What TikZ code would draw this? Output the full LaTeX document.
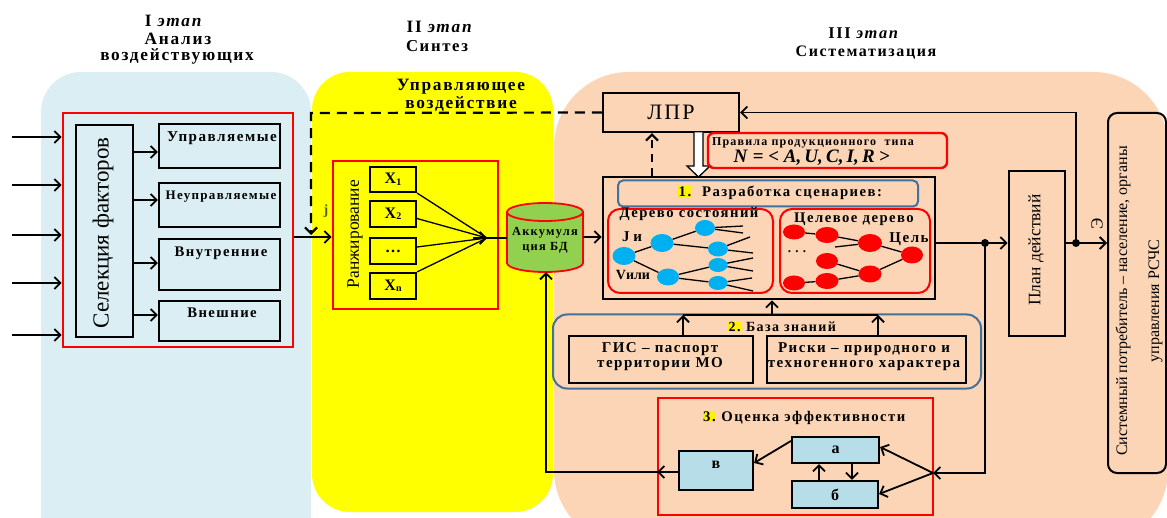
\documentclass[tikz,border=0pt]{standalone}
\usepackage{fontspec}
\setmainfont{Liberation Serif}
\newfontfamily\spf[LetterSpace=10]{Liberation Serif}
\usetikzlibrary{arrows.meta,shapes.geometric,calc}
\definecolor{pblue}{HTML}{DAEEF3}
\definecolor{pyel}{HTML}{FFFF00}
\definecolor{ppeach}{HTML}{FBD5B5}
\definecolor{cgreen}{HTML}{92D050}
\definecolor{nblue}{HTML}{00B0F0}
\definecolor{bborder}{HTML}{41719C}
\definecolor{abox}{HTML}{B7DEE8}
\definecolor{jgreen}{HTML}{4F6228}
\newcommand\hlyel[1]{{\setlength{\fboxsep}{0.6pt}\colorbox{yellow}{#1}}}
\newcommand\xsub[1]{{\bfseries\fontsize{16}{16}\selectfont X\raisebox{-1.5pt}{\fontsize{10}{10}\selectfont #1}}}
\newcommand\prodrule{{\bfseries\itshape N\/ {\upshape =} \textless\ A,\,U,\,C,\,I,\,R {\upshape\textgreater}}}
\tikzset{
  box/.style={draw=black, line width=2.2pt, inner sep=0pt},
  redbox/.style={draw=red, line width=2.8pt, inner sep=0pt},
  conn/.style={line width=1.8pt, -{Straight Barb[length=6pt,width=12pt]}},
  plain/.style={line width=1.8pt},
  thinl/.style={line width=1.3pt},
  bt/.style={font=\spf\bfseries\fontsize{#1}{#1}\selectfont, align=center, inner sep=0pt},
  bt/.default=12,
  bn/.style={ellipse, fill=nblue, inner sep=0pt},
  rn/.style={ellipse, fill=red, inner sep=0pt},
}
\begin{document}
\begin{tikzpicture}[x=1pt,y=-1pt]
\useasboundingbox (0,0) rectangle (1167,518);
% panels
\begin{scope}
\clip (0,0) rectangle (1167,518);
\fill[pblue, rounded corners=40pt] (41,72) rectangle (311,580);
\fill[pyel, rounded corners=38pt] (312,72) rectangle (553,512);
\fill[ppeach, rounded corners=75pt] (554,72) rectangle (1168,545);
\end{scope}
% titles
\node[bt=17.3] (t1a) at (174,21) {I \textit{этап}};
\node[bt=17.3] (t1b) at (178,39) {Анализ};
\node[bt=17.3] (t1c) at (177,56) {воздействующих};
\node[bt=17.3] (t2a) at (440,27) {II \textit{этап}};
\node[bt=16.7] (t2b) at (437,46) {Синтез};
\node[bt=16.4] (t3a) at (864,33) {III \textit{этап}};
\node[bt=16] (t3b) at (866,53) {Систематизация};
% stage I
\node[redbox, minimum width=230pt, minimum height=234pt] (lred) at (178,230) {};
\node[box, minimum width=57pt, minimum height=212pt] (sel) at (104.5,231) {};
\node[rotate=90, font=\fontsize{23}{23}\selectfont, inner sep=0pt] (tsel) at (103,233) {Селекция факторов};
\node[box, minimum width=121pt, minimum height=44pt] (upr) at (219.5,146) {};
\node[box, minimum width=121pt, minimum height=44pt] (nupr) at (219.5,205) {};
\node[box, minimum width=121pt, minimum height=51pt] (vnut) at (219.5,264.5) {};
\node[box, minimum width=121pt, minimum height=40pt] (vnesh) at (219.5,321) {};
\node[bt=15.1] (tupr) at (222,138) {Управляемые};
\node[bt=13] (tnupr) at (221,197) {Неуправляемые};
\node[bt=14.7] (tvnut) at (221,253) {Внутренние};
\node[bt=14.7] (tvnesh) at (222,313) {Внешние};
\foreach \yy [count=\i] in {137,185,235,283,335} {
  \coordinate (in\i) at (12,\yy);
  \draw[conn] (in\i) -- (in\i -| lred.west);
}
\draw[conn] (sel.east |- 0,152) -- (upr.west |- 0,152);
\draw[conn] (sel.east |- 0,200) -- (nupr.west |- 0,200);
\draw[conn] (sel.east |- 0,263) -- (vnut.west |- 0,263);
\draw[conn] (sel.east |- 0,315) -- (vnesh.west |- 0,315);
% stage II
\node[font=\spf\bfseries\fontsize{17.3}{18}\selectfont, align=center, inner sep=0pt] (tuv) at (461,95) {Управляющее\\воздействие};
\node[redbox, minimum width=165pt, minimum height=148pt] (rred) at (415.5,235) {};
\draw[conn] (lred.east |- 0,237) -- (rred.west |- 0,237);
\node[font=\bfseries\fontsize{14}{14}\selectfont, text=jgreen, inner sep=0pt] (jl) at (326,211) {j};
\node[rotate=90, font=\fontsize{17.5}{17.5}\selectfont, inner sep=0pt] (trank) at (355,234) {Ранжирование};
\node[box, minimum width=46pt, minimum height=25pt] (x1) at (393,179.5) {\xsub{1}};
\node[box, minimum width=46pt, minimum height=26pt] (x2) at (393,214) {\xsub{2}};
\node[box, minimum width=46pt, minimum height=26pt] (x3) at (393,251) {\bfseries\fontsize{16}{16}\selectfont\dots};
\node[box, minimum width=46pt, minimum height=26pt] (xn) at (393,286) {\xsub{n}};
\coordinate (cv) at (487,238);
\draw[thinl] (x1.south east) -- (cv);
\draw[thinl] ($(x2.east)+(-2,4)$) -- (cv);
\draw[thinl] ($(x3.east)+(0,-4)$) -- (cv);
\draw[thinl] (xn.north east) -- (cv);
\draw[conn] ($(cv)+(-14,0)$) -- (cv);
\node[minimum width=76pt, minimum height=69pt, inner sep=0pt] (db) at (545,237.5) {};
\filldraw[fill=cgreen, draw=red, line width=1.8pt] (507,212) -- (507,263) arc[start angle=180, end angle=360, x radius=38pt, y radius=9pt] -- (583,212) -- cycle;
\filldraw[fill=cgreen, draw=red, line width=1.8pt] (545,212) ellipse [x radius=38pt, y radius=9pt];
\node[font=\spf\bfseries\fontsize{12.4}{15}\selectfont, align=center, inner sep=0pt] (tdb) at (545,240) {Аккумуля\\ция БД};
\draw[plain] (cv) -- (db.west |- cv);
% stage III
\node[box, font=\spf\fontsize{22}{22}\selectfont, minimum width=136pt, minimum height=39pt] (lpr) at (671,112.5) {ЛПР};
\coordinate (dc) at (311,113);
\coordinate (de) at (311,235);
\draw[line width=2.2pt, dash pattern=on 10pt off 7pt, -{Straight Barb[length=6pt,width=12pt]}] (lpr.west) -- (dc) -- (de);
\node[box, line width=2.8pt, minimum width=332pt, minimum height=122pt] (big) at (769,238) {};
\draw[conn] (db.east |- 0,237) -- (big.west |- 0,237);
\draw[line width=2.2pt, dash pattern=on 8pt off 6pt, -{Straight Barb[length=6pt,width=12pt]}] (big.north -| 652,0) -- (lpr.south -| 652,0);
\filldraw[fill=white, draw=black, line width=1.3pt] (694,132.5) -- (694,166) -- (687,166) -- (698.5,177) -- (710,166) -- (703,166) -- (703,132.5);
\node[draw=red, line width=2.4pt, rounded corners=6pt, minimum width=239pt, minimum height=35pt] (rules) at (827.5,150.5) {};
\node[bt=12] (trul1) at (813,143) {Правила продукционного\ \ типа};
\node[font=\fontsize{19}{19}\selectfont, inner sep=0pt] (trul2) at (812,158) {\prodrule};
\node[draw=bborder, line width=2pt, rounded corners=5pt, minimum width=300pt, minimum height=26pt] (scen) at (768,193.5) {};
\node[bt=14.7] (tscen) at (780,193) {\hlyel{1.}\ \ Разработка сценариев:};
\node[draw=red, line width=2pt, rounded corners=12pt, minimum width=165pt, minimum height=84pt] (tr1) at (690.5,251) {};
\node[draw=red, line width=2pt, rounded corners=12pt, minimum width=150pt, minimum height=84pt] (tr2) at (855,251) {};
\node[bt=14.7] (ttr1) at (689,214) {Дерево состояний};
\node[bt=14.7] (ttr2) at (854,219) {Целевое дерево};
% blue tree
\node[bn, minimum width=23pt, minimum height=18pt] (a1) at (624,256) {};
\node[bn, minimum width=23pt, minimum height=18pt] (a2) at (662,243) {};
\node[bn, minimum width=20pt, minimum height=16pt] (a3) at (705,228) {};
\node[bn, minimum width=20pt, minimum height=15pt] (a4) at (718,249) {};
\node[bn, minimum width=22pt, minimum height=17pt] (a5) at (668,277) {};
\node[bn, minimum width=19pt, minimum height=14pt] (a6) at (718,265) {};
\node[bn, minimum width=19pt, minimum height=14pt] (a7) at (718,283) {};
\draw[thinl] (a1) -- (a2); \draw[thinl] (a1) -- (a5);
\draw[thinl] (a2) -- (a3); \draw[thinl] (a2) -- (a4);
\draw[thinl] (a5) -- (a6); \draw[thinl] (a5) -- (a7);
\coordinate (l1) at (743,226); \coordinate (l2) at (743,233);
\coordinate (l3) at (750,237); \coordinate (l4) at (753,253);
\coordinate (l5) at (753,258); \coordinate (l6) at (753,271);
\coordinate (l7) at (752,278); \coordinate (l8) at (753,291);
\draw[thinl] (a3) -- (l1); \draw[thinl] (a3) -- (l2);
\draw[thinl] (a4) -- (l3); \draw[thinl] (a4) -- (l4);
\draw[thinl] (a6) -- (l5); \draw[thinl] (a6) -- (l6);
\draw[thinl] (a7) -- (l7); \draw[thinl] (a7) -- (l8);
\node[font=\bfseries\fontsize{15}{15}\selectfont, inner sep=0pt] (tj) at (632,237) {J и};
\node[font=\bfseries\fontsize{14}{14}\selectfont, inner sep=0pt] (tv) at (633,275) {Vили};
% red tree
\node[rn, minimum width=22pt, minimum height=15pt] (r1) at (794,232) {};
\node[rn, minimum width=23pt, minimum height=16pt] (r2) at (827,235) {};
\node[rn, minimum width=24pt, minimum height=18pt] (r3) at (870,243) {};
\node[rn, minimum width=22pt, minimum height=17pt] (r4) at (912,255) {};
\node[rn, minimum width=22pt, minimum height=16pt] (r5) at (827,261) {};
\node[rn, minimum width=23pt, minimum height=17pt] (r6) at (870,274) {};
\node[rn, minimum width=22pt, minimum height=15pt] (r7) at (794,283) {};
\node[rn, minimum width=23pt, minimum height=16pt] (r8) at (827,281) {};
\coordinate (rl) at (835,247);
\draw[thinl] (r1) -- (r2); \draw[thinl] (r2) -- (r3); \draw[thinl] (rl) -- (r3);
\draw[thinl] (r3) -- (r4); \draw[thinl] (r5) -- (r6); \draw[thinl] (r6) -- (r4);
\draw[thinl] (r7) -- (r8); \draw[thinl] (r8) -- (r6);
\node[font=\spf\bfseries\fontsize{15}{15}\selectfont, inner sep=0pt] (tgoal) at (909,239) {Цель};
\node[bt=13] (tdots) at (797,252) {.\,\,.\,\,.};
% plan & system
\node[box, line width=2.8pt, minimum width=56pt, minimum height=165pt] (plan) at (1037,253.5) {};
\node[rotate=90, font=\fontsize{17.5}{17.5}\selectfont, inner sep=0pt] (tplan) at (1036,250) {План действий};
\node[draw, line width=2pt, rounded corners=9pt, minimum width=58pt, minimum height=360pt] (sys) at (1137,293) {};
\node[rotate=90, align=center, font=\fontsize{16}{32}\selectfont, inner sep=0pt] (tsys) at (1139,301) {Системный потребитель – население, органы\\управления РСЧС};
\node[rotate=90, font=\fontsize{17}{17}\selectfont, inner sep=0pt] (tE) at (1097,224) {Э};
\coordinate (d1) at (985,243);
\coordinate (d2) at (1076,243);
\draw[conn] (big.east |- 0,243) -- (plan.west |- 0,243);
\draw[conn] (plan.east |- 0,243) -- (sys.west |- 0,243);
\draw[conn] (d2) -- (d2 |- lpr.east) -- (lpr.east);
% knowledge base
\node[draw=bborder, line width=2pt, rounded corners=14pt, minimum width=428pt, minimum height=74pt] (kb) at (767,351.5) {};
\node[bt=14] (tkb) at (782,327) {\hlyel{2.} База знаний};
\node[box, minimum width=184pt, minimum height=47pt] (gis) at (661,359.5) {};
\node[font=\spf\bfseries\fontsize{15}{15}\selectfont, align=center, inner sep=0pt] (tgis) at (660,357) {ГИС – паспорт\\территории МО};
\node[box, minimum width=199pt, minimum height=47pt] (risk) at (866.5,359.5) {};
\node[font=\spf\bfseries\fontsize{15}{15}\selectfont, align=center, inner sep=0pt] (trisk) at (864,357) {Риски – природного и\\техногенного характера};
\coordinate (k1) at (683,315);
\coordinate (k2) at (878,315);
\coordinate (k3) at (772,315);
\draw[conn] (gis.north -| k1) -- (k1);
\draw[conn] (risk.north -| k2) -- (k2);
\draw[plain] (k1) -- (k2);
\draw[conn] (k3) -- (big.south -| k3);
% efficiency
\node[redbox, minimum width=275pt, minimum height=117pt] (eff) at (795.5,456.5) {};
\node[bt=14.7] (teff) at (804,418) {\hlyel{3.} Оценка эффективности};
\node[box, fill=abox, minimum width=87pt, minimum height=26pt, font=\bfseries\fontsize{16}{16}\selectfont] (abx) at (835.5,450) {а};
\node[box, fill=abox, minimum width=86pt, minimum height=27pt, font=\bfseries\fontsize{16}{16}\selectfont] (bbx) at (835,494.5) {б};
\node[box, fill=abox, minimum width=74pt, minimum height=39pt] (vbx) at (716,470.5) {};
\node[font=\bfseries\fontsize{16}{16}\selectfont, inner sep=0pt] (tvb) at (716,465) {в};
\coordinate (jn) at (933,473);
\draw[conn] (d1) -- (d1 |- jn) -- (jn);
\draw[conn] (jn) -- (abx.east |- 0,447);
\draw[conn] (jn) -- (bbx.east |- 0,494);
\draw[conn] (abx.west |- 0,441) -- (vbx.east |- 0,463);
\draw[conn] (abx.south -| 852,0) -- (bbx.north -| 852,0);
\draw[conn] (bbx.north -| 819,0) -- (abx.south -| 819,0);
\draw[conn] (vbx.west |- 0,472) -- (546,472) -- (db.south -| 546,0);
\draw[conn] (vbx.west |- 0,472) -- (657,472);
\fill (d1) circle[radius=4pt];
\fill (d2) circle[radius=4pt];
\end{tikzpicture}
\end{document}
